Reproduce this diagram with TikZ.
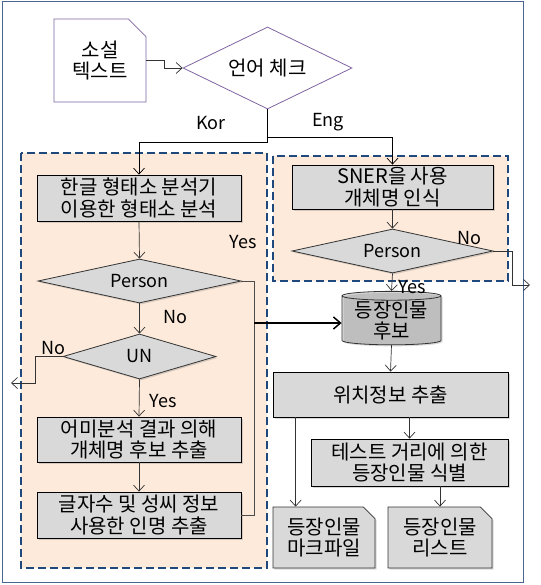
\documentclass[tikz,border=0pt]{standalone}
\usepackage{fontspec}
\setmainfont{Noto Sans CJK KR}
\usetikzlibrary{shapes.geometric,shapes.misc,arrows.meta,shadows}
\definecolor{areafill}{HTML}{FDEADA}
\definecolor{arealine}{HTML}{1F497D}
\definecolor{boxgray}{HTML}{D9D9D9}
\definecolor{chkline}{HTML}{8064A2}
\definecolor{frameline}{HTML}{4A6592}
\begin{document}
\begin{tikzpicture}[x=1pt,y=-1pt,
	font=\fontsize{20}{21.7}\selectfont,
	every node/.style={align=center,inner sep=0pt},
	shade/.style={drop shadow={shadow xshift=1.5pt,shadow yshift=-1.5pt,opacity=.3}},
	proc/.style={draw=black,fill=boxgray,line width=.8pt,shade},
	cond/.style={diamond,draw=black!80,fill=boxgray,line width=.8pt,shade,font=\fontsize{18}{20}\selectfont},
	note/.style={chamfered rectangle,chamfered rectangle corners=north east,chamfered rectangle angle=45,chamfered rectangle xsep=8pt,draw=black!80,fill=boxgray,line width=.8pt,shade},
	area/.style={draw=arealine,fill=areafill,line width=2pt,dash pattern=on 8pt off 4pt},
	flow/.style={draw=black!80,line width=.7pt,-{Straight Barb[length=6pt,width=11pt]}},
	lbl/.style={font=\fontsize{18}{20}\selectfont}]
	\useasboundingbox (0,0) rectangle (540,585);
	\fill[white] (0,0) rectangle (540,585);
	\draw[frameline,line width=1pt] (2,2) rectangle (523,582);
	% dashed areas
	\path[area] (21,153) rectangle (267,568);
	\path[area] (273,156) rectangle (508,281);
	% nodes
	\node[chamfered rectangle,chamfered rectangle corners=north east,chamfered rectangle angle=45,chamfered rectangle xsep=14pt,draw=chkline,fill=white,line width=.8pt,minimum width=92,minimum height=83] (novel) at (100,60.5) {소설\\텍스트};
	\node[diamond,draw=chkline,fill=white,line width=.8pt,aspect=2,minimum width=169,minimum height=82] (lang) at (267.5,68) {언어 체크};
	\node[proc,minimum width=204,minimum height=46] (morph) at (139,198) {한글 형태소 분석기\\이용한 형태소 분석};
	\node[cond,aspect=4.6,minimum width=203,minimum height=44] (person1) at (139.5,281) {Person};
	\node[cond,aspect=3.4,minimum width=153,minimum height=45] (un) at (139.5,356.5) {UN};
	\node[proc,minimum width=204,minimum height=45] (ending) at (139,439.5) {어미분석 결과 의해\\개체명 후보 추출};
	\node[proc,minimum width=204,minimum height=46] (name) at (139,515) {글자수 및 성씨 정보\\사용한 인명 추출};
	\node[proc,minimum width=201,minimum height=44] (sner) at (392.5,187) {SNER을 사용\\개체명 인식};
	\node[cond,aspect=4.6,minimum width=201,minimum height=44] (person2) at (392.5,251) {Person};
	\node[cylinder,shape border rotate=90,aspect=.12,draw=black!80,line width=.8pt,cylinder uses custom fill,cylinder body fill=boxgray,cylinder end fill=boxgray,minimum height=47,minimum width=99,shade] (cand) at (391.5,320.5) {등장인물\\후보};
	\node[proc,minimum width=235,minimum height=45] (pos) at (390.5,394.5) {위치정보 추출};
	\node[proc,minimum width=197,minimum height=47] (dist) at (409.5,462.5) {테스트 거리에 의한\\등장인물 식별};
	\node[note,minimum width=102,minimum height=61] (mark) at (324,537.5) {등장인물\\마크파일};
	\node[note,minimum width=104,minimum height=61] (list) at (440,537.5) {등장인물\\리스트};
	% labels
	\node[lbl] (kor) at (211,123) {Kor};
	\node[lbl] (eng) at (328,122) {Eng};
	\node[lbl] (yes1) at (243,242) {Yes};
	\node[lbl] (no1) at (175,317) {No};
	\node[lbl] (no2) at (53,348) {No};
	\node[lbl] (yes2) at (163,401) {Yes};
	\node[lbl] (no3) at (469,238) {No};
	\node[lbl] (yes3) at (412,287) {Yes};
	% connectors
	\coordinate (unout) at (11,383);
	\coordinate (engout) at (530,285);
	\coordinate (join) at (254,323);
	\draw[flow] (novel.east) -- ++(18,0) |- (lang.west);
	\draw[flow,draw=black] (lang.south) -- ++(0,28) -| (sner.north);
	\draw[flow,draw=black] (lang.south) -- ++(0,33) -| (morph.north);
	\draw[flow] (morph.south) -- (person1.north);
	\draw[flow] (person1.south) -- (un.north);
	\draw[flow] (un.south) -- (ending.north);
	\draw[flow] (ending.south) -- (name.north);
	\draw[flow] (un.west) -- ++(-27,0) |- (unout);
	\draw[draw=black!70,line width=.7pt] (person1.east) -| (join);
	\draw[draw=black!70,line width=.7pt] (name.east) -| (join);
	\draw[draw=black,line width=1.5pt,-{Straight Barb[length=7pt,width=12pt]}] (join) -- (join -| cand.west);
	\draw[flow] (sner.south) -- (person2.north);
	\draw[flow] (person2.east) -- ++(19,0) |- (engout);
	\draw[flow] (person2.south) -- (cand.north);
	\draw[flow] (cand.south) -- (pos.north);
	\draw[flow] (pos.south west) ++(23,0) coordinate (posout) -- (posout |- mark.north);
	\draw[flow] (dist.north |- pos.south) -- (dist.north);
	\draw[flow] (list.north |- dist.south) -- (list.north);
\end{tikzpicture}
\end{document}
